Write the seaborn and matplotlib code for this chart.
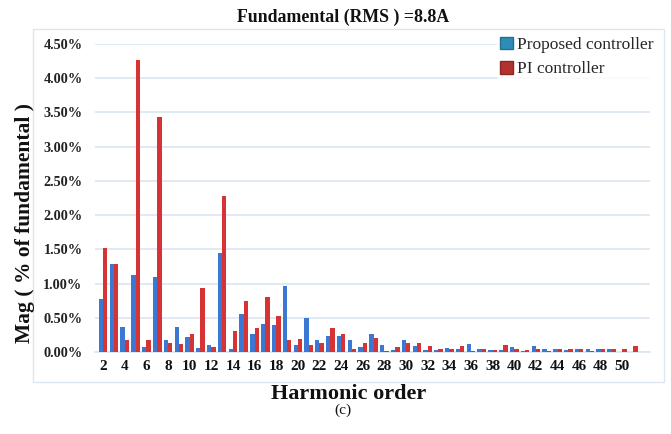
import matplotlib
matplotlib.use("Agg")
import matplotlib.pyplot as plt
from matplotlib.patches import Patch, Rectangle
from matplotlib.ticker import FuncFormatter
import seaborn as sns
import pandas as pd

# Harmonic spectrum of the line current, % of the fundamental
harmonics = list(range(2, 52))
proposed = [0.77, 1.28, 0.36, 1.13, 0.08, 1.10, 0.17, 0.36, 0.22, 0.06,
            0.10, 1.44, 0.05, 0.56, 0.26, 0.41, 0.39, 0.96, 0.10, 0.50,
            0.17, 0.24, 0.24, 0.17, 0.08, 0.26, 0.10, 0.03, 0.17, 0.09,
            0.03, 0.03, 0.06, 0.04, 0.12, 0.04, 0.03, 0.03, 0.08, 0.02,
            0.09, 0.04, 0.04, 0.03, 0.05, 0.04, 0.04, 0.04, 0.00, 0.00]
pi_ctrl = [1.52, 1.29, 0.18, 4.27, 0.18, 3.43, 0.13, 0.11, 0.26, 0.93,
           0.08, 2.28, 0.31, 0.75, 0.35, 0.80, 0.52, 0.17, 0.19, 0.10,
           0.13, 0.35, 0.26, 0.05, 0.13, 0.20, 0.02, 0.08, 0.13, 0.13,
           0.09, 0.05, 0.05, 0.09, 0.01, 0.05, 0.03, 0.10, 0.05, 0.03,
           0.04, 0.02, 0.05, 0.05, 0.05, 0.01, 0.04, 0.05, 0.04, 0.09]
series_names = ["Proposed controller", "PI controller"]
y_ticks = [0.0, 0.5, 1.0, 1.5, 2.0, 2.5, 3.0, 3.5, 4.0, 4.5]

df = pd.DataFrame({
    "harmonic": harmonics * 2,
    "value": proposed + pi_ctrl,
    "controller": [series_names[0]] * len(harmonics) + [series_names[1]] * len(harmonics),
})

sns.set_theme(style="white")
plt.rcParams["font.family"] = ["Liberation Serif", "DejaVu Serif"]

W, H = 671, 434
fig = plt.figure(figsize=(W / 100, H / 100), dpi=100)
ax = fig.add_axes([95 / W, 1 - 352 / H, (650 - 95) / W, (352 - 44) / H])

bar_colors = ["#3b78d4", "#d63434"]
sns.barplot(data=df, x="harmonic", y="value", hue="controller",
            palette=bar_colors, width=0.8, saturation=1, gap=0,
            edgecolor="none", linewidth=0, legend=False, ax=ax, zorder=3)

ax.set_ylim(0, 4.5)
ax.set_xlim(-0.75, 50.55)
ax.set_yticks(y_ticks)
ax.yaxis.set_major_formatter(FuncFormatter(lambda v, p: f"{v:.2f}%"))
tick_pos = list(range(0, len(harmonics), 2))
ax.set_xticks(tick_pos)
ax.set_xticklabels([str(harmonics[i]) for i in tick_pos])
ax.grid(axis="y", color="#dbe5f1", linewidth=1.2, zorder=0)
ax.grid(axis="x", visible=False)
for s in ["top", "right", "left"]:
    ax.spines[s].set_visible(False)
ax.spines["bottom"].set_color("#dbe5f1")
ax.spines["bottom"].set_linewidth(1.2)
ax.tick_params(axis="both", length=0)
ax.tick_params(axis="y", pad=9, labelsize=10.3, labelcolor="#222222")
ax.tick_params(axis="x", pad=6, labelsize=11, labelcolor="#111111")
for lab in ax.get_yticklabels() + ax.get_xticklabels():
    lab.set_fontweight("bold")
ax.set_xlabel("")
ax.set_ylabel("")

# Chart frame
fig.patches.append(Rectangle((33 / W, 1 - 382 / H), (664 - 33) / W, (382 - 29) / H,
                             transform=fig.transFigure, fill=False,
                             edgecolor="#dce6f2", linewidth=1.0, zorder=0))

fig.text(343 / W, 1 - 17 / H, "Fundamental (RMS ) =8.8A", ha="center", va="center",
         fontsize=12.8, fontweight="bold", color="#111111")
fig.text(349 / W, 1 - 394 / H, "Harmonic order", ha="center", va="center",
         fontsize=16, fontweight="bold", color="#111111")
fig.text(343 / W, 1 - 410 / H, "(c)", ha="center", va="center",
         fontsize=11, color="#111111")
fig.text(25 / W, 1 - 223 / H, "Mag ( % of fundamental )", ha="center", va="center",
         rotation=90, fontsize=15.5, fontweight="bold", color="#111111")

handles = [Patch(facecolor="#2e8cb6", edgecolor="#256f91", label=series_names[0]),
           Patch(facecolor="#b23230", edgecolor="#8e2626", label=series_names[1])]
leg = fig.legend(handles=handles, loc="upper left", bbox_to_anchor=(497 / W, 1 - 34 / H),
                 frameon=True, fontsize=12.5, handlelength=0.75, handleheight=0.75,
                 handletextpad=0.25, labelspacing=0.45, borderpad=0.15,
                 borderaxespad=0)
leg.get_frame().set_facecolor("white")
leg.get_frame().set_edgecolor("none")

fig.savefig("out.png", dpi=100)
